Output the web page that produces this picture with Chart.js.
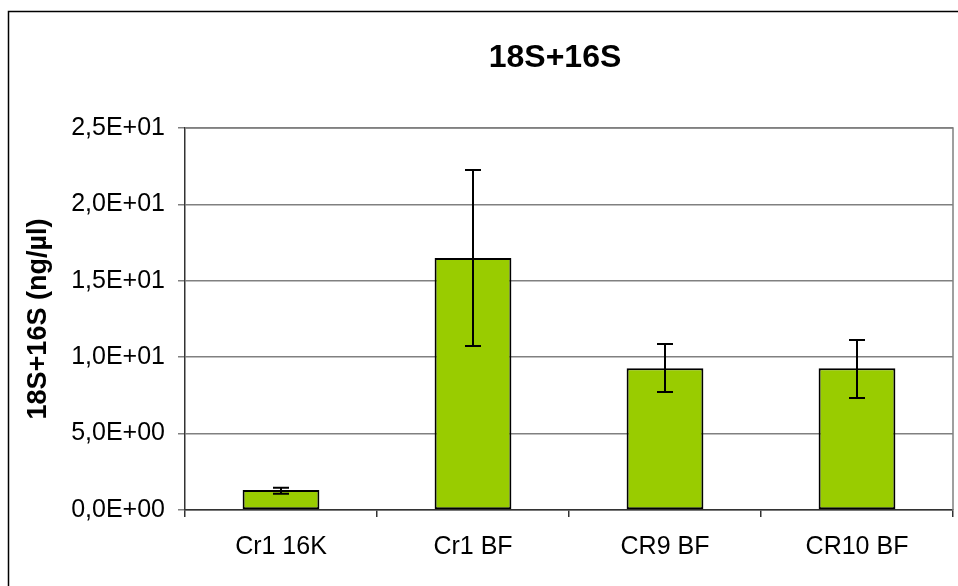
<!DOCTYPE html>
<html>
<head>
<meta charset="utf-8">
<script src="https://cdn.jsdelivr.net/npm/chart.js@4"></script>
<style>
  body { margin: 0; background: #fff; }
  canvas { display: block; }
</style>
</head>
<body>
<canvas id="rnaChart" width="958" height="586"></canvas>
<script>
const categories = ['Cr1 16K', 'Cr1 BF', 'CR9 BF', 'CR10 BF'];
const means = [1.31, 16.5, 9.28, 9.28];
const errLow = [1.07, 10.73, 7.72, 7.33];
const errHigh = [1.46, 22.25, 10.86, 11.13];
const yTicks = [0, 5, 10, 15, 20, 25];
const chartTitle = '18S+16S';

const FONT = "'Liberation Sans', Arial, sans-serif";

// 2,5E+01 style labels
function sciLabel(v) {
    if (v === 0) return '0,0E+00';
    const exp = Math.floor(Math.log10(Math.abs(v)));
    const mant = v / Math.pow(10, exp);
    const e = Math.abs(exp).toString().padStart(2, '0');
    return mant.toFixed(1).replace('.', ',') + 'E' + (exp < 0 ? '-' : '+') + e;
}

// outer frame, plot frame and the title (sits a bit left of plot centre)
const framePlugin = {
    id: 'frame',
    beforeDraw(chart) {
        const c = chart.ctx;
        c.save();
        c.fillStyle = '#fff';
        c.fillRect(0, 0, chart.width, chart.height);
        c.strokeStyle = '#000';
        c.lineWidth = 1.5;
        c.strokeRect(8.5, 11.5, 1400, 1400);
        c.fillStyle = '#000';
        c.font = 'bold 32px ' + FONT;
        c.textAlign = 'center';
        c.textBaseline = 'middle';
        c.fillText(chartTitle, 555, 58);
        c.restore();
    },
    beforeDatasetsDraw(chart) {
        const a = chart.chartArea;
        const c = chart.ctx;
        c.save();
        c.strokeStyle = '#808080';
        c.lineWidth = 1.5;
        c.beginPath();
        c.moveTo(a.left, a.top);
        c.lineTo(a.right, a.top);
        c.lineTo(a.right, a.bottom);
        c.stroke();
        c.restore();
    }
};

// error bars from errLow / errHigh
const errorBarPlugin = {
    id: 'errorBars',
    afterDatasetsDraw(chart) {
        const meta = chart.getDatasetMeta(0);
        const y = chart.scales.y;
        const c = chart.ctx;
        c.save();
        c.strokeStyle = '#000';
        c.lineWidth = 2;
        meta.data.forEach((bar, i) => {
            const yHi = y.getPixelForValue(errHigh[i]);
            const yLo = y.getPixelForValue(errLow[i]);
            c.beginPath();
            c.moveTo(bar.x, yHi);
            c.lineTo(bar.x, yLo);
            c.moveTo(bar.x - 8, yHi);
            c.lineTo(bar.x + 8, yHi);
            c.moveTo(bar.x - 8, yLo);
            c.lineTo(bar.x + 8, yLo);
            c.stroke();
        });
        c.restore();
    }
};

new Chart(document.getElementById('rnaChart'), {
    type: 'bar',
    data: {
        labels: categories,
        datasets: [{
            data: means,
            backgroundColor: '#99CC00',
            borderColor: '#000',
            borderWidth: 2,
            borderSkipped: false,
            barPercentage: 0.4,
            categoryPercentage: 1.0
        }]
    },
    options: {
        responsive: false,
        animation: false,
        layout: { padding: { left: 0, right: 5, top: 128, bottom: 0 } },
        plugins: {
            legend: { display: false },
            tooltip: { enabled: false },
            title: { display: false }
        },
        scales: {
            x: {
                grid: { drawOnChartArea: false, drawTicks: true, tickLength: 7, color: '#333', lineWidth: 1.5 },
                border: { color: '#333', width: 1.5 },
                ticks: { color: '#000', font: { family: FONT, size: 25 }, padding: 15, maxRotation: 0 },
                afterFit(scale) { scale.height = 76; }
            },
            y: {
                min: 0,
                max: 25,
                afterBuildTicks(scale) { scale.ticks = yTicks.map(v => ({ value: v })); },
                grid: { color: '#808080', lineWidth: 1.5, tickLength: 7 },
                border: { color: '#333', width: 1.5 },
                ticks: { color: '#000', font: { family: FONT, size: 25 }, padding: 13, callback: v => sciLabel(v) },
                title: {
                    display: true,
                    text: '18S+16S (ng/µl)',
                    color: '#000',
                    font: { family: FONT, size: 27, weight: 'bold' },
                    padding: { top: 22, bottom: 0 }
                },
                afterFit(scale) { scale.width = 185; }
            }
        }
    },
    plugins: [framePlugin, errorBarPlugin]
});
</script>
</body>
</html>
